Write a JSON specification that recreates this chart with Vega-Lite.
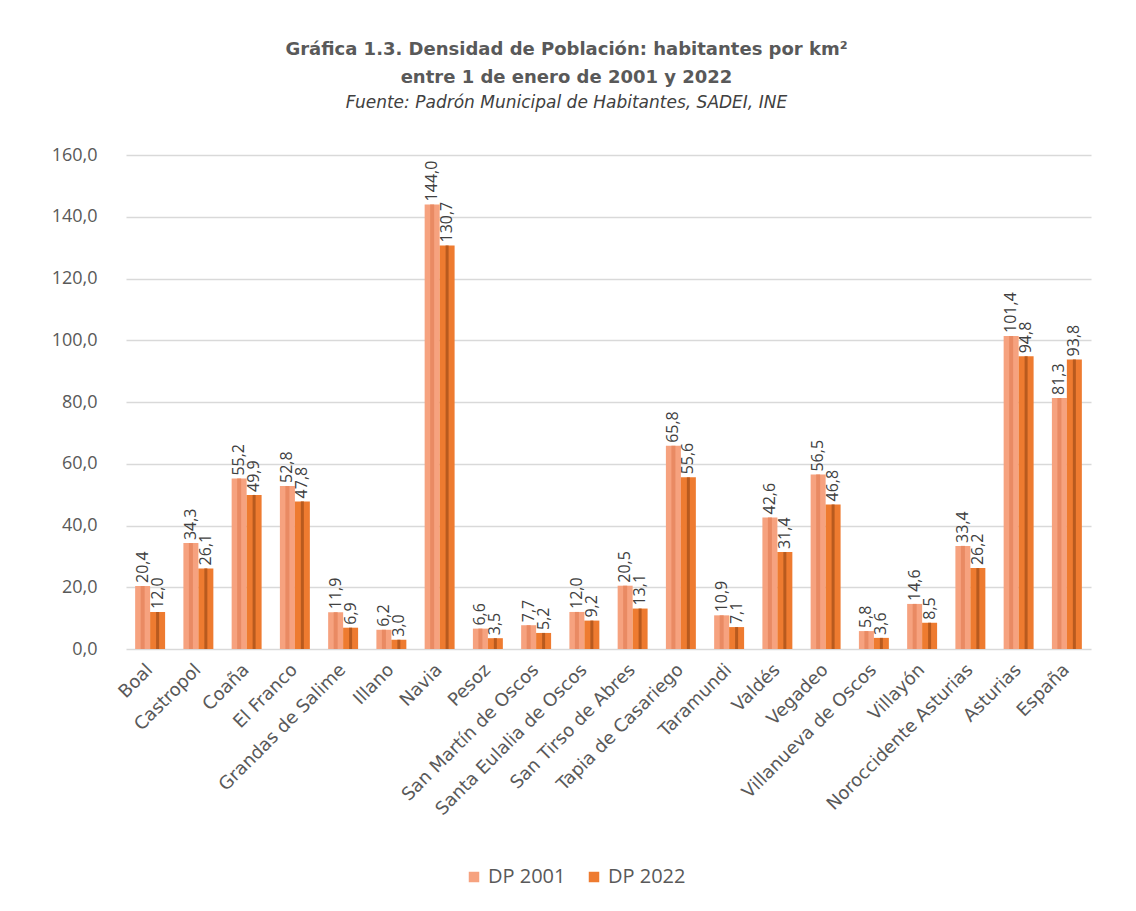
{
  "$schema": "https://vega.github.io/schema/vega-lite/v6.json",
  "width": 965,
  "height": 494,
  "autosize": {"type": "none"},
  "padding": {"left": 126, "top": 155, "right": 45, "bottom": 262},
  "background": "white",
  "title": {
    "text": ["Gráfica 1.3. Densidad de Población: habitantes por km²", "entre 1 de enero de 2001 y 2022"],
    "subtitle": "Fuente: Padrón Municipal de Habitantes, SADEI, INE",
    "anchor": "middle",
    "dx": -42,
    "offset": 35,
    "font": "DejaVu Sans",
    "fontSize": 18,
    "fontWeight": "bold",
    "color": "#595959",
    "lineHeight": 28,
    "subtitleFont": "DejaVu Sans",
    "subtitleFontStyle": "italic",
    "subtitleFontSize": 17,
    "subtitleColor": "#404040",
    "subtitlePadding": 8
  },
  "data": {
    "values": [
      {"municipio": "Boal", "serie": "DP 2001", "valor": 20.4},
      {"municipio": "Boal", "serie": "DP 2022", "valor": 12.0},
      {"municipio": "Castropol", "serie": "DP 2001", "valor": 34.3},
      {"municipio": "Castropol", "serie": "DP 2022", "valor": 26.1},
      {"municipio": "Coaña", "serie": "DP 2001", "valor": 55.2},
      {"municipio": "Coaña", "serie": "DP 2022", "valor": 49.9},
      {"municipio": "El Franco", "serie": "DP 2001", "valor": 52.8},
      {"municipio": "El Franco", "serie": "DP 2022", "valor": 47.8},
      {"municipio": "Grandas de Salime", "serie": "DP 2001", "valor": 11.9},
      {"municipio": "Grandas de Salime", "serie": "DP 2022", "valor": 6.9},
      {"municipio": "Illano", "serie": "DP 2001", "valor": 6.2},
      {"municipio": "Illano", "serie": "DP 2022", "valor": 3.0},
      {"municipio": "Navia", "serie": "DP 2001", "valor": 144.0},
      {"municipio": "Navia", "serie": "DP 2022", "valor": 130.7},
      {"municipio": "Pesoz", "serie": "DP 2001", "valor": 6.6},
      {"municipio": "Pesoz", "serie": "DP 2022", "valor": 3.5},
      {"municipio": "San Martín de Oscos", "serie": "DP 2001", "valor": 7.7},
      {"municipio": "San Martín de Oscos", "serie": "DP 2022", "valor": 5.2},
      {"municipio": "Santa Eulalia de Oscos", "serie": "DP 2001", "valor": 12.0},
      {"municipio": "Santa Eulalia de Oscos", "serie": "DP 2022", "valor": 9.2},
      {"municipio": "San Tirso de Abres", "serie": "DP 2001", "valor": 20.5},
      {"municipio": "San Tirso de Abres", "serie": "DP 2022", "valor": 13.1},
      {"municipio": "Tapia de Casariego", "serie": "DP 2001", "valor": 65.8},
      {"municipio": "Tapia de Casariego", "serie": "DP 2022", "valor": 55.6},
      {"municipio": "Taramundi", "serie": "DP 2001", "valor": 10.9},
      {"municipio": "Taramundi", "serie": "DP 2022", "valor": 7.1},
      {"municipio": "Valdés", "serie": "DP 2001", "valor": 42.6},
      {"municipio": "Valdés", "serie": "DP 2022", "valor": 31.4},
      {"municipio": "Vegadeo", "serie": "DP 2001", "valor": 56.5},
      {"municipio": "Vegadeo", "serie": "DP 2022", "valor": 46.8},
      {"municipio": "Villanueva de Oscos", "serie": "DP 2001", "valor": 5.8},
      {"municipio": "Villanueva de Oscos", "serie": "DP 2022", "valor": 3.6},
      {"municipio": "Villayón", "serie": "DP 2001", "valor": 14.6},
      {"municipio": "Villayón", "serie": "DP 2022", "valor": 8.5},
      {"municipio": "Noroccidente Asturias", "serie": "DP 2001", "valor": 33.4},
      {"municipio": "Noroccidente Asturias", "serie": "DP 2022", "valor": 26.2},
      {"municipio": "Asturias", "serie": "DP 2001", "valor": 101.4},
      {"municipio": "Asturias", "serie": "DP 2022", "valor": 94.8},
      {"municipio": "España", "serie": "DP 2001", "valor": 81.3},
      {"municipio": "España", "serie": "DP 2022", "valor": 93.8}
    ]
  },
  "encoding": {
    "x": {
      "field": "municipio",
      "type": "nominal",
      "sort": null,
      "scale": {"paddingInner": 0.38, "paddingOuter": 0.19},
      "axis": {
        "title": null,
        "labelAngle": -45,
        "labelAlign": "right",
        "labelBaseline": "middle",
        "labelFont": "DejaVu Sans",
        "labelFontSize": 18,
        "labelColor": "#595959",
        "labelPadding": 18,
        "labelLimit": 400,
        "labelOverlap": false,
        "ticks": false,
        "domain": false,
        "grid": false
      }
    },
    "xOffset": {"field": "serie", "type": "nominal", "sort": ["DP 2001", "DP 2022"]},
    "y": {
      "field": "valor",
      "type": "quantitative",
      "scale": {"domain": [0, 160]},
      "axis": {
        "title": null,
        "values": [0, 20, 40, 60, 80, 100, 120, 140, 160],
        "format": ".1f",
        "labelFont": "Open Sans",
        "labelFontSize": 18,
        "labelColor": "#595959",
        "labelPadding": 29,
        "ticks": false,
        "domain": false,
        "grid": true,
        "gridColor": "#D9D9D9",
        "gridWidth": 1.5
      }
    }
  },
  "layer": [
    {
      "mark": {"type": "bar", "width": 15},
      "encoding": {
        "color": {
          "field": "serie",
          "type": "nominal",
          "sort": ["DP 2001", "DP 2022"],
          "scale": {"domain": ["DP 2001", "DP 2022"], "range": ["#F6A27F", "#EE7B30"]},
          "legend": {
            "title": null,
            "orient": "none",
            "direction": "horizontal",
            "legendX": 338,
            "legendY": 712,
            "symbolType": "square",
            "symbolSize": 110,
            "labelFont": "Open Sans",
            "labelFontSize": 20,
            "labelColor": "#595959",
            "columnPadding": 18
          }
        }
      }
    },
    {
      "transform": [{"filter": "datum.serie === 'DP 2001'"}],
      "mark": {"type": "bar", "width": 4, "xOffset": 5.5, "color": "#E98A63"}
    },
    {
      "transform": [{"filter": "datum.serie === 'DP 2022'"}],
      "mark": {"type": "bar", "width": 3, "xOffset": 6, "color": "#B85A1E"}
    },
    {
      "mark": {
        "type": "text",
        "angle": 270,
        "align": "left",
        "baseline": "middle",
        "dx": 3,
        "font": "Open Sans",
        "fontSize": 16,
        "color": "#404040"
      },
      "encoding": {
        "text": {"field": "valor", "type": "quantitative", "format": ".1f"}
      }
    }
  ],
  "config": {
    "locale": {
      "number": {"decimal": ",", "thousands": ".", "grouping": [3], "currency": ["", " €"]}
    },
    "view": {"stroke": null}
  }
}
